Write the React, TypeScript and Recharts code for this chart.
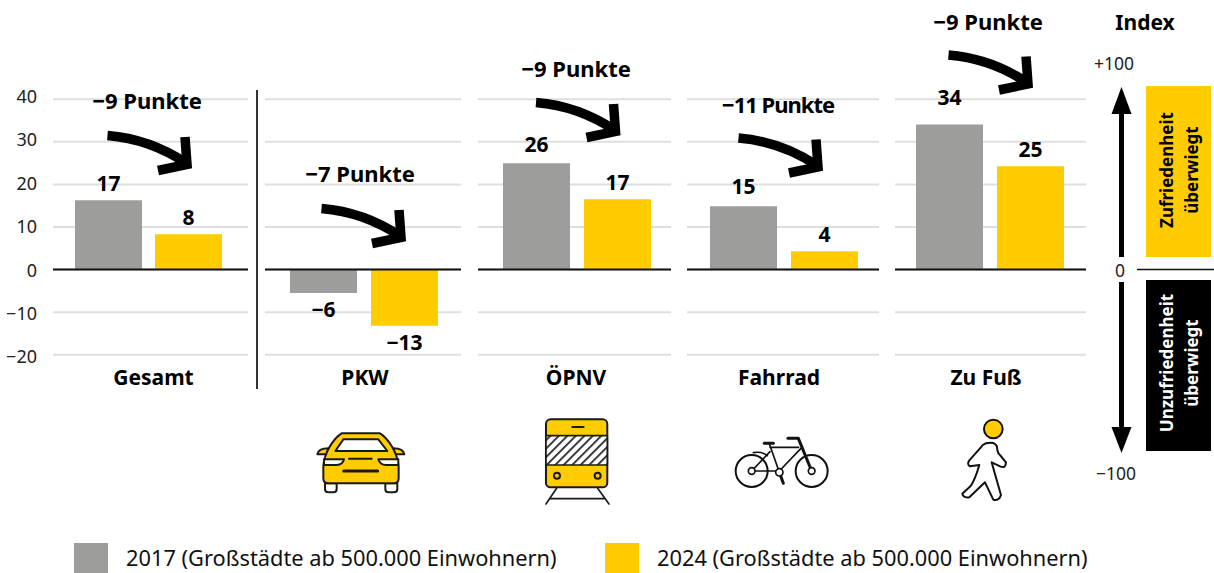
import { BarChart, Bar, XAxis, YAxis, CartesianGrid, ReferenceLine, LabelList } from 'recharts';

const CATEGORIES = ['Gesamt', 'PKW', 'ÖPNV', 'Fahrrad', 'Zu Fuß'];
const VALUES_2017 = [16.3, -5.5, 25, 14.9, 34.1];
const VALUES_2024 = [8.3, -13.2, 16.5, 4.3, 24.3];
const LABELS_2017 = [17, -6, 26, 15, 34];
const LABELS_2024 = [8, -13, 17, 4, 25];
const CHANGES = [-9, -7, -9, -11, -9];
const TICKS = [-20, -10, 0, 10, 20, 30, 40];
const SERIES_NAMES = ['2017 (Großstädte ab 500.000 Einwohnern)', '2024 (Großstädte ab 500.000 Einwohnern)'];

const GREY = '#9d9e9c';
const YELLOW = '#ffcc00';
const FONT = '"Noto Sans", sans-serif';

const PLOT_TOP = 99.3;
const PLOT_BOTTOM = 354.7;
const AXIS_WIDTH = 53;
const AXIS_HEIGHT = 40;
const CHART_TOP = 80;
const CHART_HEIGHT = 320;

// layout of the small multiples, in page pixels
const PANEL_BOXES = [
  { left: 53, right: 248, padLeft: 0, padRight: 4, gap: 13, labelDx: 5, greyLift: 0 },
  { left: 265, right: 461, padLeft: 2, padRight: 0, gap: 14, labelDx: 1, greyLift: 0 },
  { left: 478, right: 671, padLeft: 5, padRight: 0, gap: 14, labelDx: -1, greyLift: 2 },
  { left: 687, right: 879, padLeft: 2, padRight: 0, gap: 14, labelDx: -5, greyLift: 3 },
  { left: 895, right: 1086, padLeft: 0, padRight: 1, gap: 14, labelDx: -4, greyLift: 10 },
];
const ARROW_OFFSETS = [
  [0, 0],
  [214, 73],
  [428.5, -33],
  [631, 2.5],
  [841, -80.5],
];
const CHANGE_LABELS = [
  [147, 99.5],
  [360, 172.5],
  [576, 67.5],
  [778, 104],
  [988, 21],
];

const fmt = (v: number) => String(v).replace('-', '−');

const barLabel = (lift: number) => (props: any) => {
  const { x, y, width, height, value } = props;
  const top = Math.min(y, y + height);
  const bottom = Math.max(y, y + height);
  const neg = value < 0;
  return (
    <text
      x={x + width / 2}
      y={neg ? bottom + 16 : top - 17 - lift}
      textAnchor="middle"
      dominantBaseline="central"
      fontFamily={FONT}
      fontWeight={700}
      fontSize={21}
      fill="#000"
    >
      {fmt(value)}
    </text>
  );
};

function YTick(props: any) {
  const { x, y, payload } = props;
  return (
    <text x={x} y={y - payload.value * 0.08} textAnchor="end" dominantBaseline="central" fontFamily={FONT} fontSize={18} fill="#222">
      {fmt(payload.value)}
    </text>
  );
}

function Panel({ index }: { index: number }) {
  const box = PANEL_BOXES[index];
  const first = index === 0;
  const data = [
    {
      name: CATEGORIES[index],
      y2017: VALUES_2017[index],
      y2024: VALUES_2024[index],
      l2017: LABELS_2017[index],
      l2024: LABELS_2024[index],
    },
  ];
  const left = first ? 0 : box.left;
  return (
    <div style={{ position: 'absolute', left, top: CHART_TOP }}>
      <BarChart
        width={box.right - left}
        height={CHART_HEIGHT}
        data={data}
        barSize={67}
        barGap={box.gap}
        margin={{
          top: PLOT_TOP - CHART_TOP,
          bottom: CHART_TOP + CHART_HEIGHT - PLOT_BOTTOM - AXIS_HEIGHT,
          left: 0,
          right: 0,
        }}
      >
        <CartesianGrid vertical={false} horizontalValues={TICKS} stroke="#dfdfdf" strokeWidth={2} />
        <XAxis
          dataKey="name"
          height={AXIS_HEIGHT}
          axisLine={false}
          tickLine={false}
          tickSize={0}
          tickMargin={15}
          padding={{ left: box.padLeft, right: box.padRight }}
          tick={{ fontFamily: FONT, fontWeight: 700, fontSize: 21, fill: '#000', dx: box.labelDx }}
        />
        <YAxis
          hide={!first}
          width={AXIS_WIDTH}
          domain={[-20, 40]}
          ticks={TICKS}
          interval={0}
          axisLine={false}
          tickLine={false}
          tickSize={0}
          tickMargin={16}
          tick={YTick}
        />
        <Bar dataKey="y2017" fill={GREY} isAnimationActive={false}>
          <LabelList dataKey="l2017" content={barLabel(box.greyLift)} />
        </Bar>
        <Bar dataKey="y2024" fill={YELLOW} isAnimationActive={false}>
          <LabelList dataKey="l2024" content={barLabel(0)} />
        </Bar>
        <ReferenceLine y={0} stroke="#111" strokeWidth={2} />
      </BarChart>
    </div>
  );
}

function CarIcon() {
  return (
    <g transform="translate(300 405) scale(0.3333)" stroke="#1a1a1a" strokeWidth={6} strokeLinejoin="round" strokeLinecap="round">
      <path d="M75 235 H110 V252 Q110 262 100 262 H85 Q75 262 75 252 Z" fill="#fff" />
      <path d="M256 235 H292 V252 Q292 262 282 262 H266 Q256 262 256 252 Z" fill="#fff" />
      <path d="M52 148 Q55 130 85 130 L80 148 Z" fill={YELLOW} />
      <path d="M313 148 Q310 130 280 130 L285 148 Z" fill={YELLOW} />
      <path d="M70 185 C72 145 100 100 125 85 H240 C265 100 293 145 296 185 V220 Q296 235 281 235 H85 Q70 235 70 220 Z" fill={YELLOW} />
      <path d="M106 138 L130 103 H235 L262 138 Z" fill="#fff" />
      <path d="M72 163 H132 Q128 180 110 180 H72 Z" fill="#fff" />
      <path d="M295 163 H235 Q240 180 258 180 H295 Z" fill="#fff" />
      <path d="M147 161 H215" fill="none" />
      <path d="M131 198 H233" fill="none" strokeWidth={9} />
    </g>
  );
}

function TrainIcon() {
  return (
    <g transform="translate(300 405) scale(0.3333)" stroke="#1a1a1a" strokeWidth={6} strokeLinejoin="round" strokeLinecap="round">
      <defs>
        <pattern id="hatch" width={18} height={18} patternUnits="userSpaceOnUse" patternTransform="rotate(45)">
          <rect width={18} height={18} fill="#fff" stroke="none" />
          <line x1={0} y1={0} x2={0} y2={18} stroke="#1a1a1a" strokeWidth={10} />
        </pattern>
      </defs>
      <path d="M770 250 L738 297 M893 250 L927 297 M752 281 H912" fill="none" strokeWidth={5} />
      <rect x={738} y={43} width={184} height={204} rx={14} fill={YELLOW} />
      <rect x={738} y={92} width={184} height={88} fill="url(#hatch)" strokeWidth={5} />
      <path d="M817 66 H851" fill="none" />
      <circle cx={771} cy={212} r={9} fill="none" />
      <circle cx={893} cy={212} r={9} fill="none" />
    </g>
  );
}

function BikeIcon() {
  return (
    <g transform="translate(720 405) scale(0.3333)" stroke="#111" strokeWidth={5} strokeLinejoin="round" strokeLinecap="round" fill="none">
      <circle cx={95} cy={198} r={48} strokeWidth={6} />
      <circle cx={275} cy={198} r={48} strokeWidth={6} />
      <path d="M95 198 L150 140 M95 198 H178 L243 130 M150 127 H236 M148 116 L178 202" />
      <path d="M100 143 Q125 138 142 152" />
      <path d="M235 100 L275 198" strokeWidth={9} />
      <path d="M204 100 H233" strokeWidth={9} />
      <path d="M133 115 H160" strokeWidth={9} />
      <path d="M178 202 L190 235" strokeWidth={9} />
      <circle cx={95} cy={198} r={10} fill="#fff" />
      <circle cx={275} cy={198} r={10} fill="#fff" />
      <circle cx={178} cy={202} r={11} fill="#fff" />
    </g>
  );
}

function WalkerIcon() {
  return (
    <g transform="translate(720 405) scale(0.3333)" stroke="#111" strokeWidth={6} strokeLinejoin="round" strokeLinecap="round">
      <circle cx={820} cy={72} r={28} fill={YELLOW} />
      <path
        d="M798 115 Q825 108 831 125 Q832 145 840 150 L858 172 Q858 190 842 185 L815 172 L843 270 Q838 288 820 284 L795 232 L748 277 Q730 280 727 266 L752 243 Q765 225 778 180 L750 184 Q740 178 748 166 L780 130 Q788 118 798 115 Z"
        fill="#fff"
      />
    </g>
  );
}

function Overlay() {
  return (
    <svg width={1214} height={573} style={{ position: 'absolute', left: 0, top: 0, pointerEvents: 'none' }}>
      {/* divider */}
      <line x1={257} y1={90} x2={257} y2={389} stroke="#333" strokeWidth={2} />

      {/* change arrows */}
      {CHANGES.map((c, i) => (
        <g key={i}>
          <text
            x={CHANGE_LABELS[i][0]}
            y={CHANGE_LABELS[i][1]}
            textAnchor="middle"
            dominantBaseline="central"
            fontFamily={FONT}
            fontWeight={700}
            fontSize={22}
            letterSpacing={c < -9 ? -1 : 0}
            fill="#000"
          >
            {`${fmt(c)} Punkte`}
          </text>
          <g transform={`translate(${ARROW_OFFSETS[i][0]} ${ARROW_OFFSETS[i][1]})`} fill="none" stroke="#000" strokeWidth={9.5}>
            <path d="M107.5 135.5 Q150 139 186 163" />
            <path d="M185 137 L187 164.5 L158 170.5" />
          </g>
        </g>
      ))}

      {/* index scale */}
      <text x={1145} y={22} textAnchor="middle" dominantBaseline="central" fontFamily={FONT} fontWeight={700} fontSize={21}>Index</text>
      <text x={1114} y={63} textAnchor="middle" dominantBaseline="central" fontFamily={FONT} fontSize={17.5} fill="#222">+100</text>
      <text x={1120} y={270} textAnchor="middle" dominantBaseline="central" fontFamily={FONT} fontSize={17.5} fill="#222">0</text>
      <text x={1116} y={473} textAnchor="middle" dominantBaseline="central" fontFamily={FONT} fontSize={17.5} fill="#222">−100</text>
      <line x1={1137} y1={269.5} x2={1214} y2={269.5} stroke="#111" strokeWidth={1.5} />
      <path d="M1121.5 257 V110" stroke="#000" strokeWidth={5} />
      <path d="M1121.5 87 L1131.5 114 H1111.5 Z" fill="#000" />
      <path d="M1121.5 282 V430" stroke="#000" strokeWidth={5} />
      <path d="M1121.5 453 L1131.5 427 H1111.5 Z" fill="#000" />

      <rect x={1146} y={86} width={65} height={171} fill={YELLOW} />
      <rect x={1146} y={280} width={65} height={171} fill="#000" />
      <g fontFamily={FONT} fontWeight={700} fontSize={17} textAnchor="middle" dominantBaseline="central">
        <text transform="translate(1166.5 170) rotate(-90)" fill="#000">Zufriedenheit</text>
        <text transform="translate(1191.5 170) rotate(-90)" fill="#000">überwiegt</text>
        <text transform="translate(1166.5 363) rotate(-90)" fill="#fff">Unzufriedenheit</text>
        <text transform="translate(1191.5 363) rotate(-90)" fill="#fff">überwiegt</text>
      </g>

      <CarIcon />
      <TrainIcon />
      <BikeIcon />
      <WalkerIcon />
    </svg>
  );
}

function LegendRow() {
  const items = [
    { name: SERIES_NAMES[0], color: GREY, left: 74 },
    { name: SERIES_NAMES[1], color: YELLOW, left: 605 },
  ];
  return (
    <>
      {items.map((it) => (
        <div key={it.name} style={{ position: 'absolute', left: it.left, top: 543, height: 30, display: 'flex' }}>
          <div style={{ width: 34, height: 30, background: it.color }} />
          <div style={{ marginLeft: 18, marginTop: 5, fontFamily: FONT, fontSize: 21.8, lineHeight: '20px', color: '#111', whiteSpace: 'nowrap' }}>
            {it.name}
          </div>
        </div>
      ))}
    </>
  );
}

export default function App() {
  return (
    <div style={{ position: 'absolute', left: 0, top: 0, width: 1214, height: 573, overflow: 'hidden', background: '#fff' }}>
      {CATEGORIES.map((_, i) => (
        <Panel key={i} index={i} />
      ))}
      <Overlay />
      <LegendRow />
    </div>
  );
}
